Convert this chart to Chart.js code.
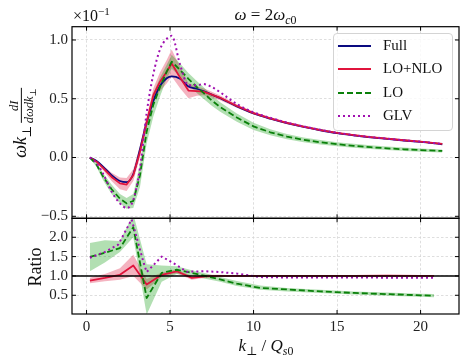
<!DOCTYPE html>
<html>
<head>
<meta charset="utf-8">
<script src="https://cdn.jsdelivr.net/npm/chart.js@4.4.1/dist/chart.umd.min.js"></script>
<style>
  html, body { margin: 0; padding: 0; background: #fff; }
  #wrap { position: relative; width: 468px; height: 363px; font-family: 'Liberation Serif', 'DejaVu Serif', serif; color: #111; }
  canvas { position: absolute; left: 0; top: 0; }
  .txt { position: absolute; white-space: nowrap; }
  .rot { transform: translate(-50%, -50%) rotate(-90deg); }
  sub, sup { font-size: 70%; line-height: 0; }
  .frac { display: inline-block; vertical-align: middle; text-align: center; font-size: 12.5px; line-height: 1.05; margin-left: 2px; }
  .frac .den { display: block; border-top: 1px solid #111; padding-top: 1px; }
  #legend { position: absolute; left: 333px; top: 33px; width: 118px; height: 96px; border: 1px solid #d4d4d4; border-radius: 4px; background: rgba(255,255,255,0.8); }
  .row { position: absolute; left: 0; height: 20px; font-size: 15px; }
  .row svg { position: absolute; left: 4px; top: 4px; }
  .row span { position: absolute; left: 49px; top: 1px; }
</style>
</head>
<body>
<div id="wrap">
  <canvas id="ratio" width="468" height="363"></canvas>
  <canvas id="main" width="468" height="363"></canvas>
  <div class="txt" style="left:72px; width:387px; top:5px; text-align:center; font-size:17px;"><i>ω</i> = 2<i>ω</i><sub><i>c</i>0</sub></div>
  <div class="txt" style="left:73px; top:7px; font-size:16px;">×10<sup>−1</sup></div>
  <div class="txt rot" style="left:22px; top:123px; font-size:18px;"><i>ωk</i><sub>⊥</sub><span class="frac"><i>dI</i><span class="den"><i>dωdk</i><sub>⊥</sub></span></span></div>
  <div class="txt rot" style="left:35px; top:267px; font-size:18px;">Ratio</div>
  <div class="txt" style="left:266px; top:346px; transform:translate(-50%,-50%); font-size:17px;"><i>k</i><sub>⊥</sub> / <i>Q</i><sub><i>s</i>0</sub></div>
  <div id="legend"></div>
</div>
<script>
/* ─── Data ────────────────────────────────────────────── */
const X_TICKS = [0, 5, 10, 15, 20];
const Y_TICKS = [-0.5, 0, 0.5, 1.0];
const RATIO_TICKS = [0.5, 1.0, 1.5, 2.0];

const K_TOP = [0.2, 0.6, 1.0, 1.5, 2.0, 2.4, 2.8, 3.2, 3.6, 4.0, 4.4, 4.8, 5.1, 5.6, 6.1, 6.6,
               7.0, 7.5, 8, 9, 10, 11, 12, 13, 14, 15, 16, 17, 18, 19, 20, 21.3];
const FULL   = [0, -0.03, -0.08, -0.15, -0.2, -0.21, -0.14, 0.07, 0.30, 0.48, 0.61, 0.675, 0.69, 0.67, 0.605, 0.585,
                0.565, 0.535, 0.505, 0.435, 0.375, 0.33, 0.292, 0.26, 0.232, 0.207, 0.188, 0.172, 0.158, 0.145, 0.133, 0.113];
const LO_NLO = [0, -0.035, -0.09, -0.165, -0.22, -0.23, -0.15, 0.05, 0.30, 0.53, 0.645, 0.73, 0.80, 0.68, 0.57, 0.565,
                0.56, 0.535, 0.508, 0.438, 0.378, 0.333, 0.294, 0.262, 0.234, 0.209, 0.19, 0.174, 0.16, 0.147, 0.135, 0.116];
const LO_NLO_HI = [0.005, -0.025, -0.07, -0.13, -0.17, -0.175, -0.10, 0.10, 0.35, 0.59, 0.725, 0.83, 0.92, 0.77, 0.635, 0.605,
                   0.59, 0.56, 0.528, 0.453, 0.39, 0.343, 0.304, 0.27, 0.242, 0.216, 0.197, 0.18, 0.166, 0.153, 0.14, 0.121];
const LO_NLO_LO = [-0.005, -0.045, -0.11, -0.2, -0.27, -0.285, -0.2, 0.0, 0.25, 0.47, 0.565, 0.63, 0.69, 0.59, 0.505, 0.525,
                   0.53, 0.51, 0.488, 0.423, 0.366, 0.323, 0.284, 0.254, 0.226, 0.202, 0.183, 0.168, 0.154, 0.141, 0.13, 0.111];
const LO     = [0, -0.06, -0.165, -0.27, -0.35, -0.39, -0.37, -0.15, 0.22, 0.45, 0.60, 0.73, 0.815, 0.744, 0.67, 0.60,
                0.55, 0.485, 0.43, 0.34, 0.265, 0.215, 0.178, 0.15, 0.13, 0.113, 0.1, 0.088, 0.078, 0.07, 0.063, 0.056];
const LO_HI  = [0.005, -0.04, -0.135, -0.23, -0.31, -0.345, -0.31, -0.05, 0.32, 0.55, 0.68, 0.79, 0.875, 0.799, 0.72, 0.65,
                0.60, 0.53, 0.47, 0.375, 0.295, 0.24, 0.2, 0.17, 0.15, 0.131, 0.117, 0.104, 0.093, 0.085, 0.077, 0.069];
const LO_LO  = [-0.005, -0.08, -0.195, -0.31, -0.39, -0.435, -0.43, -0.25, 0.12, 0.35, 0.52, 0.67, 0.755, 0.689, 0.62, 0.55,
                0.50, 0.44, 0.39, 0.305, 0.235, 0.19, 0.156, 0.13, 0.11, 0.095, 0.083, 0.072, 0.063, 0.055, 0.049, 0.043];
const GLV    = [0, -0.05, -0.14, -0.29, -0.39, -0.43, -0.36, -0.09, 0.38, 0.71, 0.92, 1.01, 1.035, 0.79, 0.615, 0.615,
                0.625, 0.60, 0.555, 0.455, 0.385, 0.338, 0.298, 0.265, 0.236, 0.21, 0.19, 0.174, 0.16, 0.147, 0.135, 0.115];

const K_RATIO = [0.2, 1.1, 2.0, 2.8, 3.6, 4.5, 5.4, 6.3, 7.1, 8.0, 9.0, 10.4, 12, 14, 16, 18, 20, 20.8];
const R_LO_NLO    = [0.88, 0.95, 1.03, 1.27, 0.78, 1.03, 1.12, 0.95, 0.99, 1.0, 1.0, 1.0, 1.0, 1.0, 1.0, 1.005, 1.0, 1.0];
const R_LO_NLO_HI = [0.95, 1.05, 1.2, 1.55, 0.92, 1.09, 1.17, 1.0, 1.03, 1.03, 1.02, 1.02, 1.015, 1.015, 1.012, 1.015, 1.01, 1.01];
const R_LO_NLO_LO = [0.81, 0.86, 0.9, 1.0, 0.65, 0.97, 1.06, 0.9, 0.95, 0.97, 0.98, 0.98, 0.985, 0.985, 0.988, 0.995, 0.99, 0.99];
const R_LO    = [1.49, 1.6, 1.72, 2.26, 0.43, 1.08, 1.16, 1.08, 1.0, 0.91, 0.8, 0.69, 0.65, 0.6, 0.56, 0.53, 0.5, 0.49];
const R_LO_HI = [1.85, 1.92, 1.9, 2.6, 1.3, 1.27, 1.25, 1.15, 1.07, 0.97, 0.87, 0.75, 0.69, 0.645, 0.6, 0.57, 0.54, 0.53];
const R_LO_LO = [1.12, 1.35, 1.62, 2.0, 0.0, 0.85, 1.05, 1.0, 0.93, 0.85, 0.74, 0.64, 0.6, 0.56, 0.52, 0.49, 0.46, 0.45];
const K_RATIO_GLV = [0.2, 1.1, 1.9, 2.7, 3.4, 3.6, 4.5, 5.4, 6.0, 7.1, 8.0, 9.0, 10.4, 12, 14, 16, 18, 20, 20.8];
const R_GLV       = [1.47, 1.62, 1.81, 2.46, 1.37, 1.1, 1.5, 1.28, 1.11, 1.12, 1.1, 1.06, 0.97, 0.96, 0.96, 0.96, 0.955, 0.95, 0.95];

const SERIES = ['Full', 'LO+NLO', 'LO', 'GLV'];

/* ─── Styles ──────────────────────────────────────────── */
const NAVY = '#0a0a80';
const CRIMSON = '#e0143c';
const GREEN = '#0a800a';
const PURPLE = '#a010b0';
const RED_BAND = 'rgba(220,20,60,0.32)';
const GREEN_BAND = 'rgba(0,150,0,0.30)';
const GRID = '#d6d6d6';
const FONT = { family: "'Liberation Serif', serif", size: 15 };
const X_MIN = -0.87, X_MAX = 22.3;

const pts = (k, v) => k.map((x, i) => ({ x, y: v[i] }));

function line(k, v, color, extra) {
  return Object.assign({ data: pts(k, v), borderColor: color, borderWidth: 1.8, pointRadius: 0, fill: false,
                         tension: 0, borderJoinStyle: 'round' }, extra);
}
function band(k, hi, lo, color) {
  return [
    { data: pts(k, hi), borderWidth: 0, pointRadius: 0, fill: false, order: 10 },
    { data: pts(k, lo), borderWidth: 0, pointRadius: 0, fill: '-1', backgroundColor: color, order: 10 },
  ];
}

/* ─── Frame + inward ticks ────────────────────────────── */
const frame = {
  id: 'frame',
  afterDatasetsDraw(chart, args, opts) {
    const { ctx, chartArea: a, scales } = chart;
    ctx.save();
    ctx.strokeStyle = '#000';
    if (opts.refLine != null) {
      const y = scales.y.getPixelForValue(opts.refLine);
      ctx.lineWidth = 1.6;
      ctx.beginPath(); ctx.moveTo(a.left, y); ctx.lineTo(a.right, y); ctx.stroke();
    }
    ctx.lineWidth = 1;
    const L = 4;
    ctx.beginPath();
    X_TICKS.forEach(v => {
      const x = scales.x.getPixelForValue(v);
      ctx.moveTo(x, a.bottom); ctx.lineTo(x, a.bottom - L);
      ctx.moveTo(x, a.top); ctx.lineTo(x, a.top + L);
    });
    scales.y.ticks.forEach(t => {
      const y = scales.y.getPixelForValue(t.value);
      ctx.moveTo(a.left, y); ctx.lineTo(a.left + L, y);
      ctx.moveTo(a.right, y); ctx.lineTo(a.right - L, y);
    });
    ctx.stroke();
    ctx.lineWidth = 1.2;
    ctx.strokeRect(a.left, a.top, a.right - a.left, a.bottom - a.top);
    ctx.restore();
  }
};

function xAxis(showLabels) {
  return {
    type: 'linear', min: X_MIN, max: X_MAX,
    afterBuildTicks: s => { s.ticks = X_TICKS.map(v => ({ value: v })); },
    afterFit: s => { s.height = showLabels ? 49 : 0; },
    grid: { color: GRID, lineWidth: 0.8, drawTicks: false },
    border: { display: false, dash: [2.5, 2] },
    ticks: { display: showLabels, color: '#222', font: FONT, padding: 4, maxRotation: 0 }
  };
}
function yAxis(min, max, tickVals) {
  return {
    min, max,
    afterBuildTicks: s => { s.ticks = tickVals.map(v => ({ value: v })); },
    afterFit: s => { s.width = 72; },
    grid: { color: GRID, lineWidth: 0.8, drawTicks: false },
    border: { display: false, dash: [2.5, 2] },
    ticks: { color: '#222', font: FONT, padding: 4,
             callback: v => (v < 0 ? '−' : '') + Math.abs(v).toFixed(1) }
  };
}
const baseOpts = {
  responsive: false, animation: false, events: [],
  plugins: { legend: { display: false }, tooltip: { enabled: false } },
};

/* ─── Main panel ──────────────────────────────────────── */
new Chart(document.getElementById('main'), {
  type: 'line',
  data: {
    datasets: [
      ...band(K_TOP, LO_HI, LO_LO, GREEN_BAND),
      ...band(K_TOP, LO_NLO_HI, LO_NLO_LO, RED_BAND),
      line(K_TOP, FULL, NAVY, { order: 4, cubicInterpolationMode: 'monotone' }),
      line(K_TOP, LO_NLO, CRIMSON, { order: 3 }),
      line(K_TOP, LO, GREEN, { order: 2, borderDash: [6, 3] }),
      line(K_TOP, GLV, PURPLE, { order: 1, borderDash: [2, 3], cubicInterpolationMode: 'monotone', borderWidth: 2 }),
    ]
  },
  options: Object.assign({}, baseOpts, {
    layout: { padding: { top: 26.7, right: 9, bottom: 144.7, left: 0 } },
    plugins: Object.assign({}, baseOpts.plugins, { frame: {} }),
    scales: { x: xAxis(false), y: yAxis(-0.517, 1.113, Y_TICKS) }
  }),
  plugins: [frame]
});

/* ─── Ratio panel ─────────────────────────────────────── */
new Chart(document.getElementById('ratio'), {
  type: 'line',
  data: {
    datasets: [
      ...band(K_RATIO, R_LO_HI, R_LO_LO, GREEN_BAND),
      ...band(K_RATIO, R_LO_NLO_HI, R_LO_NLO_LO, RED_BAND),
      line(K_RATIO, R_LO_NLO, CRIMSON, { order: 3 }),
      line(K_RATIO, R_LO, GREEN, { order: 2, borderDash: [6, 3] }),
      line(K_RATIO_GLV, R_GLV, PURPLE, { order: 1, borderDash: [2, 3], borderWidth: 2 }),
    ]
  },
  options: Object.assign({}, baseOpts, {
    layout: { padding: { top: 218.3, right: 9, bottom: 0, left: 0 } },
    plugins: Object.assign({}, baseOpts.plugins, { frame: { refLine: 1 } }),
    scales: { x: xAxis(true), y: yAxis(0.016, 2.49, RATIO_TICKS) }
  }),
  plugins: [frame]
});

/* ─── Legend ──────────────────────────────────────────── */
const LEG_STYLE = [
  { color: NAVY, dash: '' },
  { color: CRIMSON, dash: '' },
  { color: GREEN, dash: '6 3' },
  { color: PURPLE, dash: '2 3' },
];
const legend = document.getElementById('legend');
SERIES.forEach((name, i) => {
  const st = LEG_STYLE[i];
  const row = document.createElement('div');
  row.className = 'row';
  row.style.top = (2 + i * 23.3) + 'px';
  row.style.width = '118px';
  row.innerHTML = '<svg width="34" height="12"><line x1="0" y1="6" x2="33" y2="6" stroke="' + st.color +
    '" stroke-width="1.9" stroke-dasharray="' + st.dash + '"/></svg><span>' + name + '</span>';
  legend.appendChild(row);
});
</script>
</body>
</html>
